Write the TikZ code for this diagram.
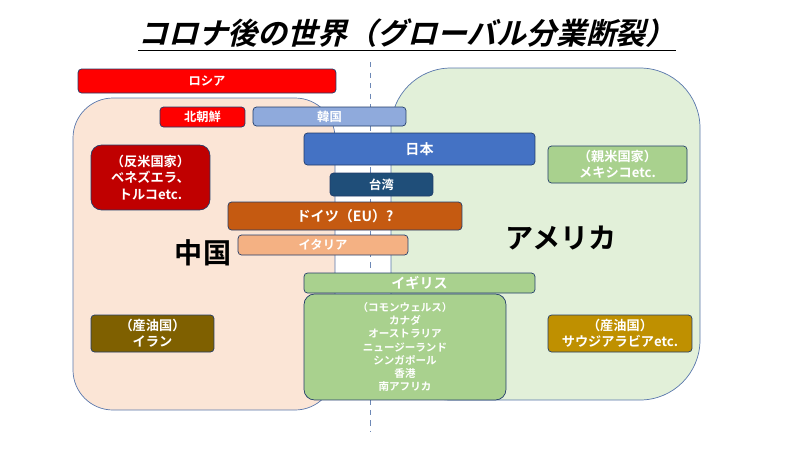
\documentclass[tikz,border=0pt]{standalone}
\usepackage{fontspec}
\setmainfont{Noto Sans CJK JP}[BoldFont={Noto Sans CJK JP Bold},BoldItalicFont={Noto Sans CJK JP Bold},BoldItalicFeatures={FakeSlant=0.25}]
\usepackage{tikz}
\usetikzlibrary{shapes}
\definecolor{chinafill}{HTML}{FBE5D6}
\definecolor{usafill}{HTML}{E2F0D9}
\definecolor{edgeblue}{HTML}{2F5597}
\tikzstyle{region}=[draw=edgeblue!80, thin]
\tikzstyle{bar}=[rectangle, rounded corners=2pt, draw=edgeblue!70!black, thin
,text=white, font=\bfseries\fontsize{7}{8}\selectfont
,inner sep=0pt, align=center
]
\tikzstyle{group}=[bar, rounded corners=6pt]

\begin{document}
\begin{tikzpicture}[x=0.02cm, y=-0.02cm]
    \useasboundingbox (0,0) rectangle (800,450);
    % the two blocs
    \path[region, fill=chinafill, rounded corners=0.8cm] (73,98) rectangle (335,410);
    \path[region, fill=usafill, rounded corners=1.2cm] (391,68) rectangle (700,400);
    \draw[edgeblue!70, dashed, thin] (370,62) -- (370,432);

    % title
    \node (title) at (407,35) {\bfseries\itshape\fontsize{17}{19}\selectfont \underline{コロナ後の世界（グローバル分業断裂）}};
    \node[font=\bfseries\fontsize{16}{18}\selectfont] (china) at (203,253) {中国};
    \node[font=\bfseries\fontsize{16}{18}\selectfont] (usa) at (561,238) {アメリカ};

    % countries
    \node[bar, fill=red, minimum width=5.16cm, minimum height=0.48cm] (russia) at (207,81) {ロシア};
    \node[bar, fill=red, minimum width=1.7cm, minimum height=0.4cm] (nkorea) at (202.5,117) {北朝鮮};
    \node[bar, fill={rgb,255:red,143;green,170;blue,220}, minimum width=3.06cm, minimum height=0.38cm] (korea) at (329.5,116.5) {韓国};
    \node[bar, fill={rgb,255:red,68;green,114;blue,196}, minimum width=4.62cm, minimum height=0.64cm, font=\bfseries\fontsize{8}{9}\selectfont] (japan) at (419.5,149) {日本};
    \node[bar, fill={rgb,255:red,31;green,78;blue,121}, minimum width=2.06cm, minimum height=0.46cm] (taiwan) at (381.5,184.5) {台湾};
    \node[bar, fill={rgb,255:red,197;green,90;blue,17}, minimum width=4.68cm, minimum height=0.56cm, font=\bfseries\fontsize{8}{9}\selectfont] (germany) at (345,216) {ドイツ（EU）?};
    \node[bar, fill={rgb,255:red,244;green,177;blue,131}, minimum width=3.4cm, minimum height=0.4cm] (italy) at (323,245) {イタリア};
    \node[bar, fill={rgb,255:red,169;green,209;blue,142}, minimum width=4.62cm, minimum height=0.4cm, font=\bfseries\fontsize{8}{9}\selectfont] (uk) at (419.5,283) {イギリス};
    \node[group, fill={rgb,255:red,169;green,209;blue,142}, minimum width=4.04cm, minimum height=2.12cm, font=\bfseries\fontsize{6}{7.5}\selectfont] (commonwealth) at (405,347)
        {（コモンウェルス）\\カナダ\\オーストラリア\\ニュージーランド\\シンガポール\\香港\\南アフリカ};

    % other groups
    \node[group, fill={rgb,255:red,192;green,0;blue,0}, minimum width=2.38cm, minimum height=1.3cm, font=\bfseries\fontsize{7.5}{9.5}\selectfont] (antius) at (150.5,177.5) {（反米国家）\\ベネズエラ、\\トルコetc.};
    \node[bar, fill={rgb,255:red,169;green,209;blue,142}, minimum width=2.78cm, minimum height=0.74cm, font=\bfseries\fontsize{7.5}{9}\selectfont] (prous) at (617.5,164.5) {（親米国家）\\メキシコetc.};
    \node[bar, fill={rgb,255:red,127;green,96;blue,0}, minimum width=2.46cm, minimum height=0.74cm, font=\bfseries\fontsize{7.5}{9}\selectfont] (iran) at (152.5,333.5) {（産油国）\\イラン};
    \node[bar, fill={rgb,255:red,191;green,144;blue,0}, minimum width=2.88cm, minimum height=0.74cm, font=\bfseries\fontsize{7.5}{9}\selectfont] (saudi) at (620,333.5) {（産油国）\\サウジアラビアetc.};
\end{tikzpicture}
\end{document}
